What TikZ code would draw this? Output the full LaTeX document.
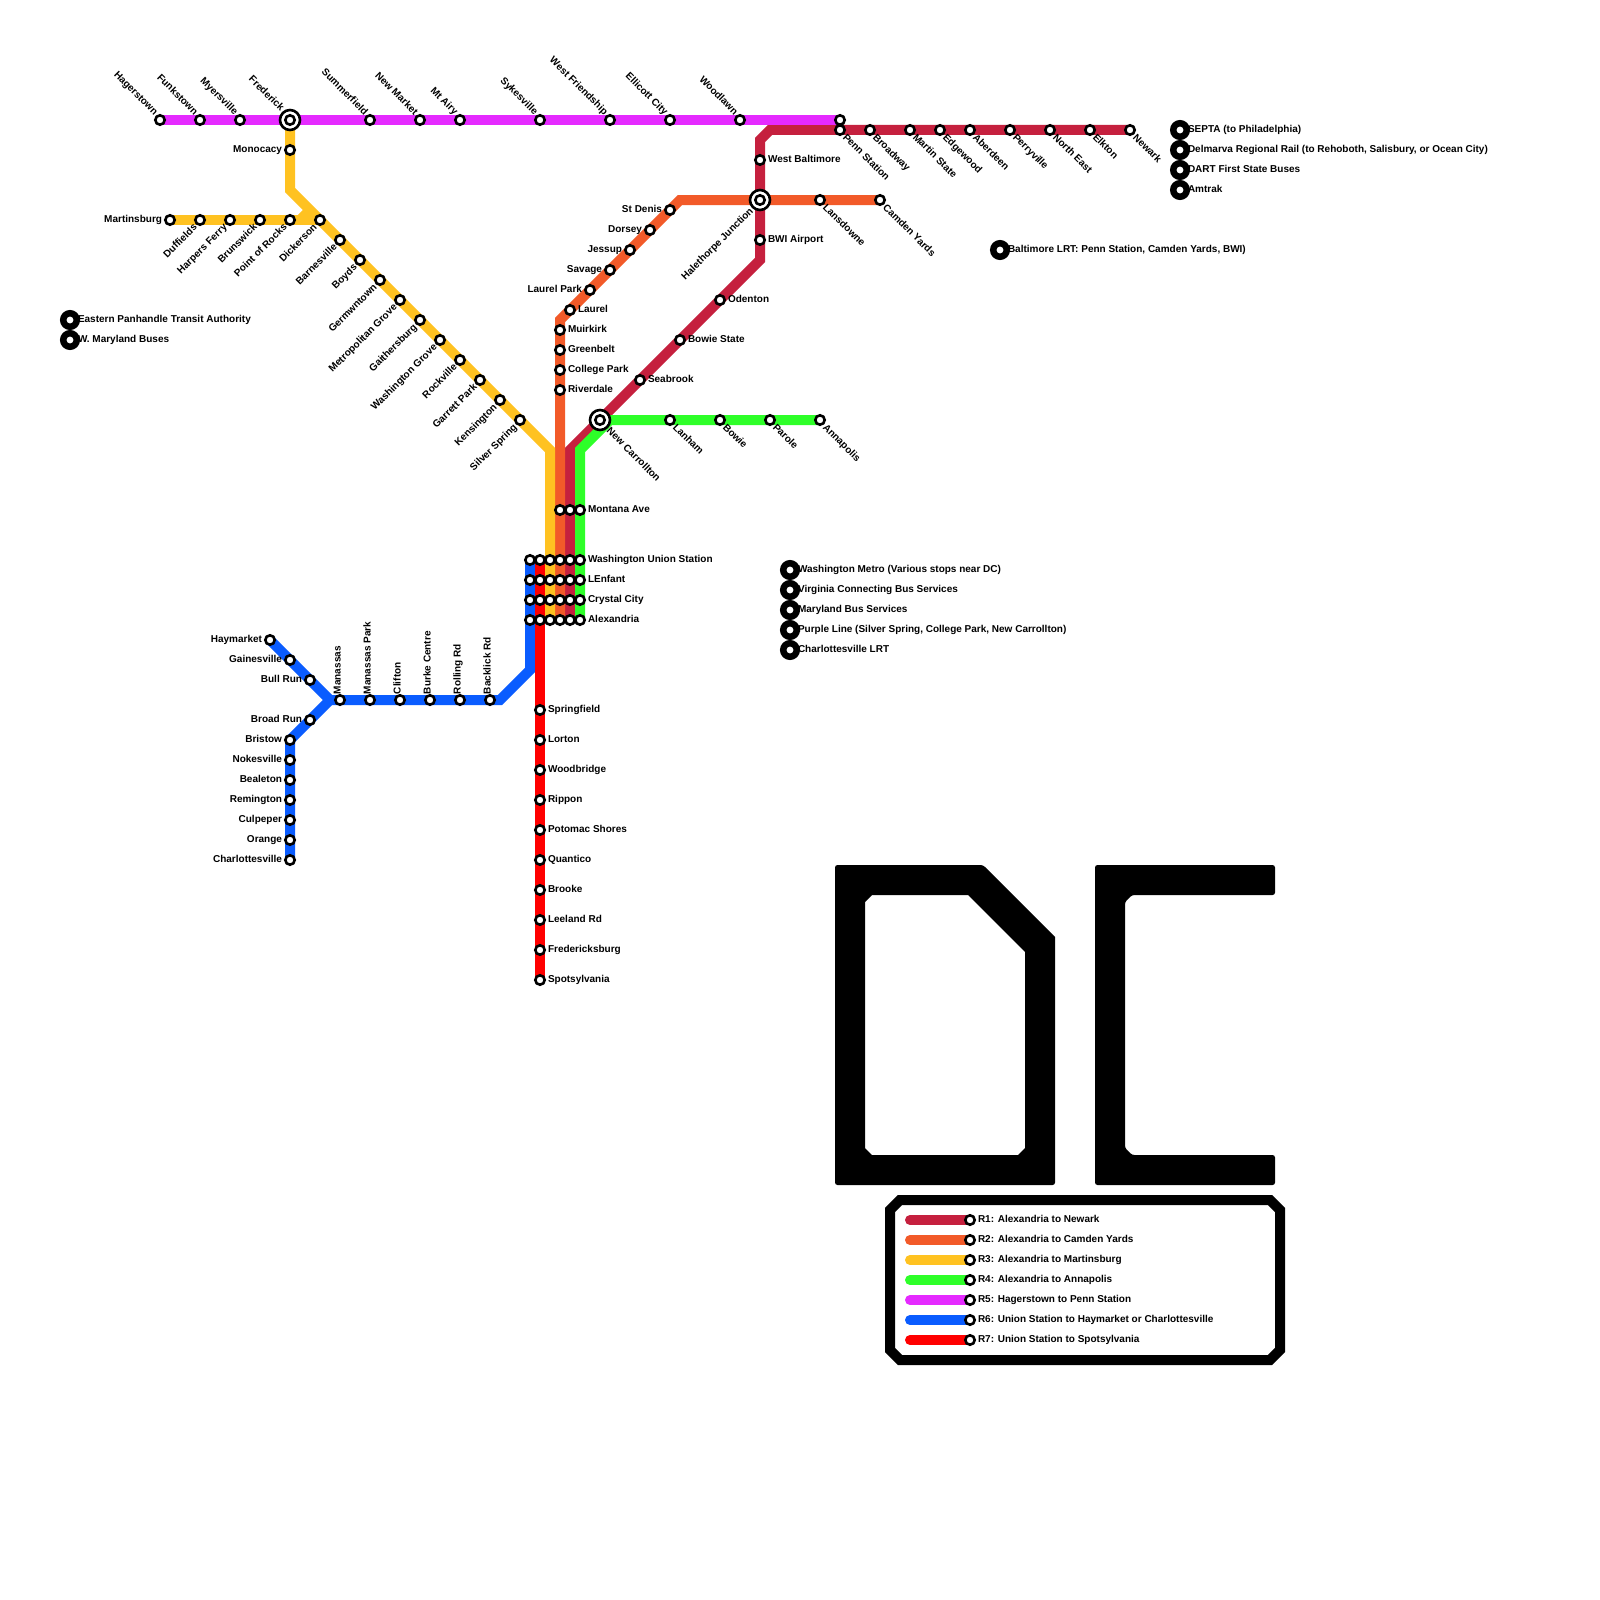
\documentclass[tikz,border=0pt]{standalone}
\usepackage{xcolor}
\usepackage{fontspec}
\setmainfont{Liberation Sans}
\usetikzlibrary{backgrounds}
\definecolor{RedLine}{RGB}{197,32,62}
\definecolor{OrangeLine}{RGB}{242,90,41}
\definecolor{YellowLine}{RGB}{255,194,33}
\definecolor{GreenLine}{RGB}{46,255,41}
\definecolor{PurpleLine}{RGB}{229,42,255}
\definecolor{BlueLine}{RGB}{10,92,255}
\definecolor{BrightRed}{RGB}{255,0,0}

\begin{document}
\begin{tikzpicture}[
        x=1pt,y=-1pt,label distance=2pt,
        lbl/.style={font=\fontsize{10}{12}\selectfont\bfseries,inner sep=0pt,outer sep=0pt,text=black,text height=7pt,text depth=2pt},
        stn/.style={circle,draw=black,fill=white,line width=2.6pt,inner sep=0pt,minimum size=9.4pt},
        itc/.style={stn,minimum size=20pt,path picture={\draw[line width=2.6pt] (path picture bounding box.center) circle (4.7pt);}},
        bus/.style={stn,line width=6.5pt,minimum size=13.5pt},
        tr/.style={label={[lbl,anchor=west]right:{#1}}},
        tb/.style={label={[lbl,anchor=west,xshift=-4pt]right:{#1}}},
        tl/.style={label={[lbl,anchor=east]left:{#1}}},
        tul/.style={label={[lbl,rotate=-45,anchor=east]135:{#1}}},
        tdl/.style={label={[lbl,rotate=45,anchor=east]225:{#1}}},
        tdr/.style={label={[lbl,rotate=-45,anchor=west]315:{#1}}},
        tup/.style={label={[lbl,rotate=90,anchor=west]90:{#1}}},
        r1/.style={line width=10pt,RedLine},
        r2/.style={line width=10pt,OrangeLine},
        r3/.style={line width=10pt,YellowLine},
        r4/.style={line width=10pt,GreenLine},
        r5/.style={line width=10pt,PurpleLine},
        r6/.style={line width=10pt,BlueLine},
        r7/.style={line width=10pt,BrightRed},
        key/.style={line cap=round}
      ]
        \useasboundingbox (0,0) rectangle (1600,1600);
        % R5
        \node[stn,tul={Hagerstown}] (hagerstown) at (160,120) {};
        \node[stn,tul={Funkstown}] (funkstown) at (200,120) {};
        \node[stn,tul={Myersville}] (myersville) at (240,120) {};
        \node[itc,tul={Frederick}] (frederick) at (290,120) {};
        \node[stn,tul={Summerfield}] (summerfield) at (370,120) {};
        \node[stn,tul={New Market}] (newmarket) at (420,120) {};
        \node[stn,tul={Mt Airy}] (mtairy) at (460,120) {};
        \node[stn,tul={Sykesville}] (sykesville) at (540,120) {};
        \node[stn,tul={West Friendship}] (westfriendship) at (610,120) {};
        \node[stn,tul={Ellicott City}] (ellicott) at (670,120) {};
        \node[stn,tul={Woodlawn}] (woodlawn) at (740,120) {};
        \node[stn] (penntop) at (840,120) {};
        % R1
        \node[stn,tdr={Penn Station}] (penn) at (840,130) {};
        \node[stn,tdr={Broadway}] (broadway) at (870,130) {};
        \node[stn,tdr={Martin State}] (martin) at (910,130) {};
        \node[stn,tdr={Edgewood}] (edgewood) at (940,130) {};
        \node[stn,tdr={Aberdeen}] (aberdeen) at (970,130) {};
        \node[stn,tdr={Perryville}] (perryville) at (1010,130) {};
        \node[stn,tdr={North East}] (northeast) at (1050,130) {};
        \node[stn,tdr={Elkton}] (elkton) at (1090,130) {};
        \node[stn,tdr={Newark}] (newark) at (1130,130) {};
        \node[stn,tr={West Baltimore}] (westbalt) at (760,160) {};
        \node[stn,tr={BWI Airport}] (bwi) at (760,240) {};
        \node[stn,tr={Odenton}] (odenton) at (720,300) {};
        \node[stn,tr={Bowie State}] (bowiestate) at (680,340) {};
        \node[stn,tr={Seabrook}] (seabrook) at (640,380) {};
        \node[itc,tdr={New Carrollton}] (newcarrollton) at (600,420) {};
        % R2
        \node[itc,tdl={Halethorpe Junction}] (halethorpe) at (760,200) {};
        \node[stn,tdr={Lansdowne}] (lansdowne) at (820,200) {};
        \node[stn,tdr={Camden Yards}] (camden) at (880,200) {};
        \node[stn,tl={St Denis}] (stdenis) at (670,210) {};
        \node[stn,tl={Dorsey}] (dorsey) at (650,230) {};
        \node[stn,tl={Jessup}] (jessup) at (630,250) {};
        \node[stn,tl={Savage}] (savage) at (610,270) {};
        \node[stn,tl={Laurel Park}] (laurelpark) at (590,290) {};
        \node[stn,tr={Laurel}] (laurel) at (570,310) {};
        \node[stn,tr={Muirkirk}] (muirkirk) at (560,330) {};
        \node[stn,tr={Greenbelt}] (greenbelt) at (560,350) {};
        \node[stn,tr={College Park}] (collegepark) at (560,370) {};
        \node[stn,tr={Riverdale}] (riverdale) at (560,390) {};
        % R3
        \node[stn,tl={Monocacy}] (monocacy) at (290,150) {};
        \node[stn,tl={Martinsburg}] (martinsburg) at (170,220) {};
        \node[stn,tdl={Duffields}] (duffields) at (200,220) {};
        \node[stn,tdl={Harpers Ferry}] (harpers) at (230,220) {};
        \node[stn,tdl={Brunswick}] (brunswick) at (260,220) {};
        \node[stn,tdl={Point of Rocks}] (pointrocks) at (290,220) {};
        \node[stn,tdl={Dickerson}] (dickerson) at (320,220) {};
        \node[stn,tdl={Barnesville}] (barnesville) at (340,240) {};
        \node[stn,tdl={Boyds}] (boyds) at (360,260) {};
        \node[stn,tdl={Germwntown}] (germwntown) at (380,280) {};
        \node[stn,tdl={Metropolitan Grove}] (metgrove) at (400,300) {};
        \node[stn,tdl={Gaithersburg}] (gaithersburg) at (420,320) {};
        \node[stn,tdl={Washington Grove}] (washgrove) at (440,340) {};
        \node[stn,tdl={Rockville}] (rockville) at (460,360) {};
        \node[stn,tdl={Garrett Park}] (garrett) at (480,380) {};
        \node[stn,tdl={Kensington}] (kensington) at (500,400) {};
        \node[stn,tdl={Silver Spring}] (silverspring) at (520,420) {};
        % R4
        \node[stn,tdr={Lanham}] (lanham) at (670,420) {};
        \node[stn,tdr={Bowie}] (bowie) at (720,420) {};
        \node[stn,tdr={Parole}] (parole) at (770,420) {};
        \node[stn,tdr={Annapolis}] (annapolis) at (820,420) {};
        % shared stops
        \node[stn] (montanaR2) at (560,510) {};
        \node[stn] (montanaR1) at (570,510) {};
        \node[stn,tr={Montana Ave}] (montanaR4) at (580,510) {};
        \node[stn] (unionR6) at (530,560) {};
        \node[stn] (unionR7) at (540,560) {};
        \node[stn] (unionR3) at (550,560) {};
        \node[stn] (unionR2) at (560,560) {};
        \node[stn] (unionR1) at (570,560) {};
        \node[stn,tr={Washington Union Station}] (unionR4) at (580,560) {};
        \node[stn] (lenfantR6) at (530,580) {};
        \node[stn] (lenfantR7) at (540,580) {};
        \node[stn] (lenfantR3) at (550,580) {};
        \node[stn] (lenfantR2) at (560,580) {};
        \node[stn] (lenfantR1) at (570,580) {};
        \node[stn,tr={LEnfant}] (lenfantR4) at (580,580) {};
        \node[stn] (crystalR6) at (530,600) {};
        \node[stn] (crystalR7) at (540,600) {};
        \node[stn] (crystalR3) at (550,600) {};
        \node[stn] (crystalR2) at (560,600) {};
        \node[stn] (crystalR1) at (570,600) {};
        \node[stn,tr={Crystal City}] (crystalR4) at (580,600) {};
        \node[stn] (alexR6) at (530,620) {};
        \node[stn] (alexR7) at (540,620) {};
        \node[stn] (alexR3) at (550,620) {};
        \node[stn] (alexR2) at (560,620) {};
        \node[stn] (alexR1) at (570,620) {};
        \node[stn,tr={Alexandria}] (alexR4) at (580,620) {};
        % R6
        \node[stn,tl={Haymarket}] (haymarket) at (270,640) {};
        \node[stn,tl={Gainesville}] (gainesville) at (290,660) {};
        \node[stn,tl={Bull Run}] (bullrun) at (310,680) {};
        \node[stn,tl={Broad Run}] (broadrun) at (310,720) {};
        \node[stn,tl={Bristow}] (bristow) at (290,740) {};
        \node[stn,tl={Nokesville}] (nokesville) at (290,760) {};
        \node[stn,tl={Bealeton}] (bealeton) at (290,780) {};
        \node[stn,tl={Remington}] (remington) at (290,800) {};
        \node[stn,tl={Culpeper}] (culpeper) at (290,820) {};
        \node[stn,tl={Orange}] (orange) at (290,840) {};
        \node[stn,tl={Charlottesville}] (charlottesville) at (290,860) {};
        \node[stn,tup={Manassas}] (manassas) at (340,700) {};
        \node[stn,tup={Manassas Park}] (manassaspark) at (370,700) {};
        \node[stn,tup={Clifton}] (clifton) at (400,700) {};
        \node[stn,tup={Burke Centre}] (burke) at (430,700) {};
        \node[stn,tup={Rolling Rd}] (rolling) at (460,700) {};
        \node[stn,tup={Backlick Rd}] (backlick) at (490,700) {};
        % R7
        \node[stn,tr={Springfield}] (springfield) at (540,710) {};
        \node[stn,tr={Lorton}] (lorton) at (540,740) {};
        \node[stn,tr={Woodbridge}] (woodbridge) at (540,770) {};
        \node[stn,tr={Rippon}] (rippon) at (540,800) {};
        \node[stn,tr={Potomac Shores}] (potomac) at (540,830) {};
        \node[stn,tr={Quantico}] (quantico) at (540,860) {};
        \node[stn,tr={Brooke}] (brooke) at (540,890) {};
        \node[stn,tr={Leeland Rd}] (leeland) at (540,920) {};
        \node[stn,tr={Fredericksburg}] (fredericksburg) at (540,950) {};
        \node[stn,tr={Spotsylvania}] (spotsylvania) at (540,980) {};
        % other services
        \node[bus,tb={Eastern Panhandle Transit Authority}] (eastern) at (70,320) {};
        \node[bus,tb={W. Maryland Buses}] (wmaryland) at (70,340) {};
        \node[bus,tb={Washington Metro (Various stops near DC)}] (metro) at (790,570) {};
        \node[bus,tb={Virginia Connecting Bus Services}] (virginia) at (790,590) {};
        \node[bus,tb={Maryland Bus Services}] (mdbus) at (790,610) {};
        \node[bus,tb={Purple Line (Silver Spring, College Park, New Carrollton)}] (purple) at (790,630) {};
        \node[bus,tb={Charlottesville LRT}] (cvillelrt) at (790,650) {};
        \node[bus,tb={Baltimore LRT: Penn Station, Camden Yards, BWI)}] (baltlrt) at (1000,250) {};
        \node[bus,tb={SEPTA (to Philadelphia)}] (septa) at (1180,130) {};
        \node[bus,tb={Delmarva Regional Rail (to Rehoboth, Salisbury, or Ocean City)}] (delmarva) at (1180,150) {};
        \node[bus,tb={DART First State Buses}] (dart) at (1180,170) {};
        \node[bus,tb={Amtrak}] (amtrak) at (1180,190) {};
        % key
        \node[stn,tr={R1: Alexandria to Newark}] (keyR1) at (970,1220) {};
        \node[stn,tr={R2: Alexandria to Camden Yards}] (keyR2) at (970,1240) {};
        \node[stn,tr={R3: Alexandria to Martinsburg}] (keyR3) at (970,1260) {};
        \node[stn,tr={R4: Alexandria to Annapolis}] (keyR4) at (970,1280) {};
        \node[stn,tr={R5: Hagerstown to Penn Station}] (keyR5) at (970,1300) {};
        \node[stn,tr={R6: Union Station to Haymarket or Charlottesville}] (keyR6) at (970,1320) {};
        \node[stn,tr={R7: Union Station to Spotsylvania}] (keyR7) at (970,1340) {};
        \coordinate (startR1) at (910,1220);
        \coordinate (startR2) at (910,1240);
        \coordinate (startR3) at (910,1260);
        \coordinate (startR4) at (910,1280);
        \coordinate (startR5) at (910,1300);
        \coordinate (startR6) at (910,1320);
        \coordinate (startR7) at (910,1340);
        % bends
        \coordinate (bendR1a) at (570,450);
        \coordinate (bendR1b) at (760,260);
        \coordinate (bendR1c) at (760,140);
        \coordinate (bendR1d) at (770,130);
        \coordinate (bendR2a) at (560,320);
        \coordinate (bendR2b) at (680,200);
        \coordinate (bendR3a) at (550,450);
        \coordinate (bendR3b) at (290,190);
        \coordinate (bendR3c) at (300,220);
        \coordinate (bendR3d) at (310,210);
        \coordinate (bendR4a) at (580,450);
        \coordinate (bendR4b) at (610,420);
        \coordinate (bendR6a) at (530,670);
        \coordinate (bendR6b) at (500,700);
        \coordinate (bendR6c) at (330,700);
        \begin{scope}[on background layer]
        \fill[white] (0,0) rectangle (1600,1600);
        \draw[r1] (alexR1.center)--(bendR1a)--(bendR1b)--(bendR1c)--(bendR1d)--(newark.center);
        \draw[r2] (alexR2.center)--(bendR2a)--(bendR2b)--(camden.center);
        \draw[r3] (alexR3.center)--(bendR3a)--(bendR3b)--(frederick.center);
        \draw[r3] (martinsburg.center)--(dickerson.center);
        \draw[r3] (bendR3c)--(bendR3d);
        \draw[r4] (alexR4.center)--(bendR4a)--(bendR4b)--(annapolis.center);
        \draw[r5] (hagerstown.center)--(penntop.center);
        \draw[r6] (unionR6.center)--(bendR6a)--(bendR6b)--(bendR6c)--(haymarket.center);
        \draw[r6] (bendR6c)--(bristow.center)--(charlottesville.center);
        \draw[r7] (unionR7.center)--(spotsylvania.center);
        \draw[r1,key] (startR1)--(keyR1.center);
        \draw[r2,key] (startR2)--(keyR2.center);
        \draw[r3,key] (startR3)--(keyR3.center);
        \draw[r4,key] (startR4)--(keyR4.center);
        \draw[r5,key] (startR5)--(keyR5.center);
        \draw[r6,key] (startR6)--(keyR6.center);
        \draw[r7,key] (startR7)--(keyR7.center);
        \end{scope}
        % letters
        \fill[even odd rule,black]
          [rounded corners=2.5pt] (835,865)--(983,865) [sharp corners] --(1055,937) [rounded corners=2.5pt] --(1055,1185)--(835,1185)--cycle
          [sharp corners] (865,902)--(872,895)--(968,895)--(1025,952)--(1025,1148)--(1018,1155)--(872,1155)--(865,1148)--cycle;
        \fill[black,rounded corners=2.5pt] (1095,865)--(1275,865)--(1275,895)--(1132,895)--(1125,902)--(1125,1148)--(1132,1155)--(1275,1155)--(1275,1185)--(1095,1185)--cycle;
        % key frame
        \draw[line width=10pt] (900,1200)--(1270,1200)--(1280,1210)--(1280,1350)--(1270,1360)--(900,1360)--(890,1350)--(890,1210)--cycle;
      \end{tikzpicture}
\end{document}
